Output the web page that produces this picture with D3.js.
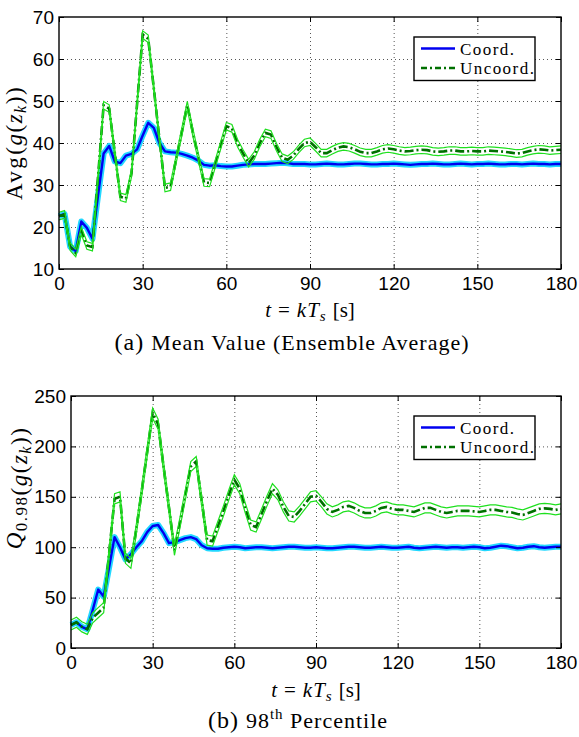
<!DOCTYPE html>
<html>
<head>
<meta charset="utf-8">
<script src="https://cdn.jsdelivr.net/npm/d3@7"></script>
<style>
  body { margin: 0; background: #fff; }
  svg text { fill: #000; }
  .tick text { font-family: "Liberation Sans", Arial, sans-serif; font-size: 19px; }
  .serif { font-family: "Liberation Serif", "Times New Roman", serif; }
</style>
</head>
<body>
<svg id="fig"></svg>
<script>
var W = 579, H = 737;

// sample times, one every 2 s
var times = d3.range(0, 181, 2);

// (a) ensemble average
var avgCoord = [
  22.6, 23.1, 15.3, 14.3, 21.3, 19.8, 17.2, 27.5, 37.5, 39.3,
  35.6, 35.2, 37.0, 37.4, 38.5, 41.8, 44.8, 43.6, 40.0, 38.0,
  37.8, 37.7, 37.4, 37.0, 36.5, 35.8, 34.8, 34.6, 34.7, 34.5,
  34.4, 34.4, 34.6, 34.8, 34.9, 35.0, 35.0, 35.0, 35.1, 35.2,
  35.3, 35.2, 35.0, 35.0, 35.0, 34.9, 34.9, 35.0, 35.1, 35.0,
  34.9, 34.9, 35.0, 35.1, 35.1, 35.0, 34.9, 34.9, 35.0, 35.0,
  35.1, 35.0, 34.9, 34.8, 34.9, 35.0, 35.0, 35.1, 35.0, 34.9,
  34.9, 35.0, 35.1, 35.0, 34.9, 35.0, 35.0, 35.1, 35.0, 34.9,
  34.9, 35.0, 35.0, 34.9, 35.0, 35.1, 35.0, 35.0, 34.9, 35.0, 35.0
];
var avgUncoord = [
  22.6, 23.0, 15.3, 13.8, 19.1, 15.6, 15.2, 32.0, 49.0, 48.2,
  37.7, 27.2, 26.8, 32.8, 49.3, 65.8, 64.8, 53.0, 41.0, 29.3,
  29.6, 36.1, 42.5, 49.0, 42.5, 36.5, 30.6, 30.5, 35.0, 39.5,
  44.0, 43.5, 40.0, 37.5, 35.2, 37.0, 40.0, 42.4, 42.0, 39.0,
  36.5, 36.0, 37.0, 38.6, 40.0, 40.3, 39.0, 37.6, 37.6, 38.3,
  38.9, 39.2, 39.0, 38.5, 37.9, 37.6, 37.6, 38.0, 38.5, 38.7,
  38.5, 38.2, 38.0, 38.1, 38.3, 38.4, 38.3, 38.0, 37.9, 38.0,
  38.2, 38.2, 38.0, 38.0, 38.1, 38.0, 38.0, 38.2, 38.1, 38.0,
  37.9, 37.7, 37.5, 37.6, 38.0, 38.3, 38.5, 38.4, 38.2, 38.3, 38.4
];

// (b) 98th percentile
var q98Coord = [
  22.8, 25.5, 21.0, 18.5, 38.0, 58.0, 51.0, 80.0, 110.0, 100.0,
  88.0, 93.0, 100.0, 106.0, 115.0, 121.0, 122.0, 114.0, 104.0, 105.0,
  107.0, 109.0, 110.0, 108.0, 102.0, 99.0, 98.5, 98.5, 99.5, 100.0,
  100.5, 100.0, 99.0, 99.5, 100.0, 100.0, 99.5, 99.0, 99.5, 100.0,
  100.5, 100.5, 100.0, 99.5, 99.5, 100.0, 99.5, 99.0, 99.0, 99.5,
  100.0, 100.5, 100.5, 100.0, 99.5, 99.5, 100.0, 100.5, 100.0, 99.5,
  99.5, 100.0, 100.5, 99.5, 99.0, 99.5, 100.0, 100.5, 100.0, 99.5,
  100.0, 100.0, 99.5, 100.0, 100.5, 100.0, 99.0, 99.5, 100.5, 101.5,
  101.0, 100.0, 99.0, 99.5, 100.5, 101.0, 100.0, 99.5, 100.0, 100.5, 100.5
];
var q98Uncoord = [
  22.8, 25.5, 21.0, 18.5, 30.0, 35.0, 40.0, 94.0, 148.0, 150.0,
  89.0, 84.0, 118.0, 156.0, 195.0, 233.0, 222.0, 180.0, 139.0, 97.0,
  124.0, 152.0, 180.0, 185.0, 146.0, 107.0, 106.0, 121.0, 136.0, 152.0,
  167.0, 158.0, 139.0, 122.0, 120.0, 133.0, 146.0, 158.0, 152.0, 140.0,
  131.0, 130.0, 136.0, 143.0, 150.0, 151.0, 145.0, 138.0, 135.0, 137.0,
  140.0, 141.0, 139.0, 136.0, 134.0, 134.0, 136.0, 139.0, 140.0, 138.0,
  137.0, 137.0, 136.0, 135.0, 137.0, 139.0, 139.0, 137.0, 135.0, 134.0,
  135.0, 136.0, 136.0, 136.0, 135.5, 135.0, 136.0, 137.0, 137.0, 136.0,
  135.0, 134.5, 133.0, 132.0, 134.0, 136.0, 138.0, 138.5, 138.0, 137.0, 138.0
];

// half width of the Uncoord. spread band, in data units
var avgSpread = 0.9;
var q98Spread = 5;

var xTicks = [0, 30, 60, 90, 120, 150, 180];
var avgTicks = [10, 20, 30, 40, 50, 60, 70];
var q98Ticks = [0, 50, 100, 150, 200, 250];
var seriesNames = ["Coord.", "Uncoord."];

var svg = d3.select("#fig").attr("width", W).attr("height", H);

var panels = [
  { left: 59, right: 561, top: 17, bottom: 269, yDomain: [10, 70], yTicks: avgTicks,
    coord: avgCoord, uncoord: avgUncoord, spread: avgSpread,
    xlabelY: 317, captionY: 350, caption: "a", ylabel: "avg" },
  { left: 71, right: 561, top: 396, bottom: 648, yDomain: [0, 250], yTicks: q98Ticks,
    coord: q98Coord, uncoord: q98Uncoord, spread: q98Spread,
    xlabelY: 697, captionY: 728, caption: "b", ylabel: "q98" }
];

function drawPanel(p) {
  var x = d3.scaleLinear().domain([0, 180]).range([p.left, p.right]);
  var y = d3.scaleLinear().domain(p.yDomain).range([p.bottom, p.top]);
  var g = svg.append("g");

  // dotted grid
  var grid = g.append("g").attr("stroke", "#555").attr("stroke-width", 1)
    .attr("stroke-dasharray", "1,3");
  grid.selectAll("line.v").data(xTicks.slice(1, -1)).enter().append("line")
    .attr("x1", function(d) { return x(d) + 0.5; }).attr("x2", function(d) { return x(d) + 0.5; })
    .attr("y1", p.top).attr("y2", p.bottom);
  grid.selectAll("line.h").data(p.yTicks.slice(1, -1)).enter().append("line")
    .attr("y1", function(d) { return y(d) + 0.5; }).attr("y2", function(d) { return y(d) + 0.5; })
    .attr("x1", p.left).attr("x2", p.right);

  var line = function(vals, off) {
    return d3.line()
      .x(function(d, i) { return x(times[i]); })
      .y(function(d) { return y(d + off); })(vals);
  };

  // Coord.: cyan band under a blue line
  g.append("path").attr("d", line(p.coord, 0)).attr("fill", "none")
    .attr("stroke", "#22d8ff").attr("stroke-width", 6).attr("stroke-linejoin", "round");
  g.append("path").attr("d", line(p.coord, 0)).attr("fill", "none")
    .attr("stroke", "#0000f0").attr("stroke-width", 2.4).attr("stroke-linejoin", "round");

  // Uncoord.: dark dash-dot mean with two bright green bounds
  g.append("path").attr("d", line(p.uncoord, 0)).attr("fill", "none")
    .attr("stroke", "#007000").attr("stroke-width", 2.6).attr("stroke-dasharray", "9,3,2,3");
  [-p.spread, p.spread].forEach(function(off) {
    g.append("path").attr("d", line(p.uncoord, off)).attr("fill", "none")
      .attr("stroke", "#1ee01e").attr("stroke-width", 1.2);
  });

  // frame + inward ticks
  g.append("rect").attr("x", p.left).attr("y", p.top)
    .attr("width", p.right - p.left).attr("height", p.bottom - p.top)
    .attr("fill", "none").attr("stroke", "#000").attr("stroke-width", 1.4);

  var ax = [
    { a: d3.axisBottom(x).tickValues(xTicks).tickPadding(8), t: "translate(0," + p.bottom + ")" },
    { a: d3.axisTop(x).tickValues(xTicks).tickFormat(""), t: "translate(0," + p.top + ")" },
    { a: d3.axisLeft(y).tickValues(p.yTicks).tickPadding(5), t: "translate(" + p.left + ",0)" },
    { a: d3.axisRight(y).tickValues(p.yTicks).tickFormat(""), t: "translate(" + p.right + ",0)" }
  ];
  ax.forEach(function(o) {
    var ag = g.append("g").attr("transform", o.t).call(o.a.tickSize(-5));
    ag.select(".domain").remove();
    ag.selectAll(".tick line").attr("stroke", "#000");
  });

  // legend
  var lx = p.right - 147, ly = p.top + 20;
  var leg = g.append("g");
  leg.append("rect").attr("x", lx).attr("y", ly).attr("width", 121).attr("height", 43.5)
    .attr("fill", "#fff").attr("stroke", "#000").attr("stroke-width", 1.4);
  leg.append("line").attr("x1", lx + 7).attr("x2", lx + 41).attr("y1", ly + 11.5).attr("y2", ly + 11.5)
    .attr("stroke", "#0000f0").attr("stroke-width", 2.4);
  leg.append("line").attr("x1", lx + 7).attr("x2", lx + 41).attr("y1", ly + 31).attr("y2", ly + 31)
    .attr("stroke", "#007000").attr("stroke-width", 2.4).attr("stroke-dasharray", "6,3,2,3");
  leg.selectAll("text").data(seriesNames).enter().append("text")
    .attr("class", "serif").attr("x", lx + 46)
    .attr("y", function(d, i) { return ly + 17.5 + i * 19.5; })
    .attr("font-size", 17).attr("letter-spacing", 1.45)
    .text(function(d) { return d; });

  // x label  t = kT_s [s]
  var xl = g.append("text").attr("class", "serif").attr("x", (p.left + p.right) / 2)
    .attr("y", p.xlabelY).attr("text-anchor", "middle").attr("font-size", 21);
  xl.append("tspan").attr("font-style", "italic").text("t");
  xl.append("tspan").attr("dx", 7).text("=");
  xl.append("tspan").attr("dx", 7).attr("font-style", "italic").attr("letter-spacing", 1).text("kT");
  xl.append("tspan").attr("font-style", "italic").attr("font-size", 15).attr("dy", 4).text("s");
  xl.append("tspan").attr("dx", 7).attr("dy", -4).text("[s]");

  // caption
  var cap = g.append("text").attr("class", "serif").attr("x", (p.left + p.right) / 2 - 18)
    .attr("y", p.captionY).attr("text-anchor", "middle").attr("font-size", 22).attr("letter-spacing", 1);
  cap.append("tspan").attr("font-size", 24).text("(" + p.caption + ") ");
  if (p.caption === "a") {
    cap.append("tspan").text("Mean Value (Ensemble Average)");
  } else {
    cap.append("tspan").text("98");
    cap.append("tspan").attr("font-size", 15).attr("dy", -9).text("th");
    cap.append("tspan").attr("dy", 9).text(" Percentile");
  }

  // y label (rotated)
  var yc = p.ylabel === "avg" ? (p.top + p.bottom) / 2 : 488;
  var yl = g.append("text").attr("class", "serif")
    .attr("transform", "translate(22," + yc + ") rotate(-90)")
    .attr("text-anchor", "middle").attr("font-size", 23).attr("letter-spacing", 1.5);
  if (p.ylabel === "avg") {
    yl.append("tspan").attr("letter-spacing", 2.5).text("Avg");
  } else {
    yl.append("tspan").attr("font-style", "italic").text("Q");
    yl.append("tspan").attr("font-size", 17).attr("dy", 5).text("0.98");
    yl.append("tspan").attr("dy", -5).text("");
  }
  yl.append("tspan").text("(");
  yl.append("tspan").attr("font-style", "italic").text("g");
  yl.append("tspan").text("(");
  yl.append("tspan").attr("font-style", "italic").text("z");
  yl.append("tspan").attr("font-style", "italic").attr("font-size", 16).attr("dy", 4).text("k");
  yl.append("tspan").attr("dy", -4).text("))");
}

panels.forEach(drawPanel);
</script>
</body>
</html>
